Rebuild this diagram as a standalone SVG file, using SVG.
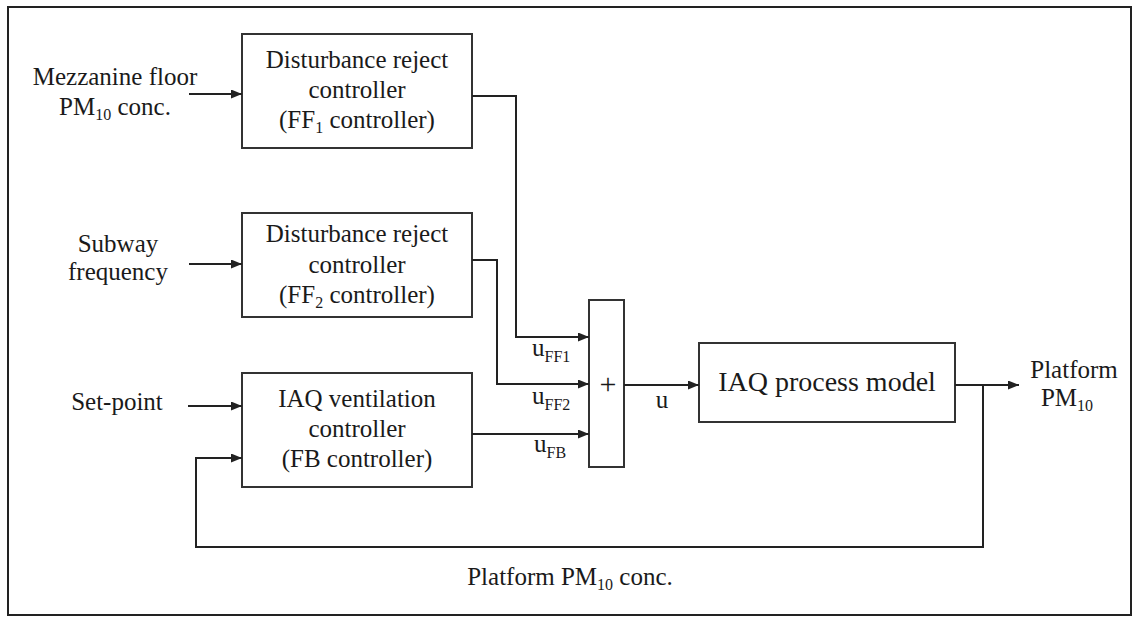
<svg xmlns="http://www.w3.org/2000/svg" width="1132" height="617" viewBox="0 0 1132 617">
<style>
.box{fill:#fff;stroke:#333;stroke-width:2}
.ln{fill:none;stroke:#222;stroke-width:2}
text{font-family:'Liberation Serif','Times New Roman',Times,serif;fill:#1a1a1a;font-size:25px}
.c{text-anchor:middle}
.sub{font-size:16px}
.big{font-size:28px}
</style>
<defs>
<marker id="ah" markerUnits="userSpaceOnUse" markerWidth="11" markerHeight="9" refX="11" refY="4.5" orient="auto">
<path d="M0,0 L11,4.5 L0,9 z" fill="#222"/>
</marker>
</defs>
<rect x="8" y="7" width="1123" height="608" fill="#fff" stroke="#222" stroke-width="2"/>

<g id="in-mezz">
<text x="115" y="85" class="c">Mezzanine floor</text>
<text x="115" y="115" class="c">PM<tspan class="sub" dy="5">10</tspan><tspan dy="-5"> conc.</tspan></text>
</g>
<g id="in-subway">
<text x="118" y="252" class="c">Subway</text>
<text x="118" y="280" class="c">frequency</text>
</g>
<g id="in-setpoint">
<text x="117" y="410" class="c">Set-point</text>
</g>

<g id="ff1">
<rect class="box" x="242" y="34" width="230" height="114"/>
<text x="357" y="68" class="c">Disturbance reject</text>
<text x="357" y="98" class="c">controller</text>
<text x="357" y="128" class="c">(FF<tspan class="sub" dy="5">1</tspan><tspan dy="-5"> controller)</tspan></text>
</g>
<g id="ff2">
<rect class="box" x="242" y="213" width="230" height="104"/>
<text x="357" y="242" class="c">Disturbance reject</text>
<text x="357" y="273" class="c">controller</text>
<text x="357" y="303" class="c">(FF<tspan class="sub" dy="5">2</tspan><tspan dy="-5"> controller)</tspan></text>
</g>
<g id="fb">
<rect class="box" x="242" y="373" width="230" height="114"/>
<text x="357" y="407" class="c">IAQ ventilation</text>
<text x="357" y="437" class="c">controller</text>
<text x="357" y="467" class="c">(FB controller)</text>
</g>
<g id="sum">
<rect class="box" x="589" y="300" width="35" height="167"/>
<text x="608" y="394" class="c" style="font-size:30px">+</text>
</g>
<g id="process">
<rect class="box" x="699" y="343" width="256" height="79"/>
<text x="827" y="391" class="c big">IAQ process model</text>
</g>
<g id="out">
<text x="1074" y="378" class="c">Platform</text>
<text x="1067" y="406" class="c">PM<tspan class="sub" dy="5">10</tspan></text>
</g>

<g id="connectors">
<line class="ln" x1="189" y1="94" x2="242" y2="94" marker-end="url(#ah)"/>
<line class="ln" x1="189" y1="264" x2="242" y2="264" marker-end="url(#ah)"/>
<line class="ln" x1="188" y1="406" x2="242" y2="406" marker-end="url(#ah)"/>
<polyline class="ln" points="472,96 516,96 516,337 589,337" marker-end="url(#ah)"/>
<polyline class="ln" points="472,260 497,260 497,384 589,384" marker-end="url(#ah)"/>
<line class="ln" x1="472" y1="434" x2="589" y2="434" marker-end="url(#ah)"/>
<line class="ln" x1="624" y1="385" x2="699" y2="385" marker-end="url(#ah)"/>
<line class="ln" x1="955" y1="385" x2="1019" y2="385" marker-end="url(#ah)"/>
<polyline class="ln" points="983,385 983,547 196,547 196,458 242,458" marker-end="url(#ah)"/>
</g>

<g id="labels">
<text x="532" y="356">u<tspan class="sub" dy="6">FF1</tspan></text>
<text x="532" y="404">u<tspan class="sub" dy="6">FF2</tspan></text>
<text x="534" y="452">u<tspan class="sub" dy="6">FB</tspan></text>
<text x="662" y="408" class="c">u</text>
<text x="570" y="585" class="c">Platform PM<tspan class="sub" dy="5">10</tspan><tspan dy="-5"> conc.</tspan></text>
</g>
</svg>
